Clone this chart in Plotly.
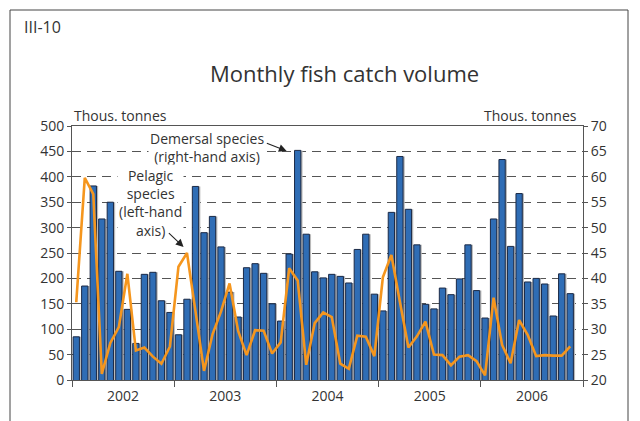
import plotly.graph_objects as go

# ---- data -------------------------------------------------------------
years = ["2002", "2003", "2004", "2005", "2006"]
months = [f"{y}-{m:02d}" for y in range(2002, 2007) for m in range(1, 13)][:59]

# Demersal species, thousand tonnes (right-hand axis)
demersal = [
    28.5, 38.5, 58.2, 51.7, 55.0, 41.4, 33.9, 27.2, 40.8, 41.2, 35.6, 33.3,
    28.9, 35.9, 58.1, 49.0, 52.2, 46.2, 37.3, 32.4, 42.1, 42.9, 41.0, 35.0,
    31.6, 44.8, 65.2, 48.7, 41.3, 40.1, 40.8, 40.4, 39.1, 45.7, 48.7, 36.9,
    33.6, 53.0, 64.0, 53.6, 46.6, 34.9, 34.0, 38.1, 36.8, 39.9, 46.6, 37.6,
    32.2, 51.7, 63.4, 46.3, 56.7, 39.3, 40.0, 38.9, 32.6, 40.9, 37.0,
]

# Pelagic species, thousand tonnes (left-hand axis)
pelagic = [
    153, 398, 366, 12, 73, 104, 209, 58, 64, 46, 32, 66,
    223, 250, 135, 18, 90, 135, 190, 97, 49, 98, 97, 52,
    74, 220, 196, 30, 112, 133, 124, 32, 22, 87, 85, 47,
    202, 246, 154, 64, 86, 115, 50, 49, 29, 46, 49, 37,
    9, 162, 69, 33, 118, 89, 47, 49, 48, 48, 66,
]

x = list(range(len(months)))
n_slots = 12 * len(years)

FONT = "Open Sans"
TXT = "#333333"

fig = go.Figure()

# bar shadow
fig.add_trace(go.Bar(
    x=x, y=demersal, yaxis="y", width=0.74, offset=-0.37 + 0.2,
    marker=dict(color="#b9b9b9", line=dict(width=0)),
    hoverinfo="skip", showlegend=False,
))
# demersal bars
fig.add_trace(go.Bar(
    x=x, y=demersal, yaxis="y", width=0.74, offset=-0.37,
    marker=dict(color="#2f6db5", line=dict(color="#1b2a47", width=1)),
    name="Demersal species", showlegend=False,
))
# pelagic line
fig.add_trace(go.Scatter(
    x=x, y=pelagic, yaxis="y2", mode="lines",
    line=dict(color="#f5961e", width=2.6),
    name="Pelagic species", showlegend=False,
))

boundaries = [i * 12 - 0.5 for i in range(len(years) + 1)]
centers = [i * 12 + 5.5 for i in range(len(years))]

fig.update_layout(
    width=640, height=421,
    margin=dict(l=72, r=57, t=126, b=41, autoexpand=False),
    paper_bgcolor="white", plot_bgcolor="white",
    barmode="overlay",
    font=dict(family=FONT, size=14, color=TXT),
    xaxis=dict(
        range=[-0.5, n_slots - 0.5],
        tickvals=centers, ticktext=years, ticks="",
        tickfont=dict(size=14, color=TXT),
        showgrid=False, zeroline=False,
        showline=True, linecolor="#555555", linewidth=1, mirror=True,
        minor=dict(tickvals=boundaries, ticks="outside", ticklen=6,
                   tickcolor="#555555", showgrid=False),
        ticklabelstandoff=3,
    ),
    yaxis=dict(
        side="right", range=[20, 70], dtick=5, tick0=20,
        showgrid=True, gridcolor="#555555", gridwidth=1, griddash="9px,6px",
        zeroline=False, showline=True, linecolor="#555555", linewidth=1,
        ticks="outside", ticklen=4, tickcolor="#555555",
        tickfont=dict(size=14, color=TXT),
    ),
    yaxis2=dict(
        side="left", overlaying="y", range=[0, 500], dtick=50, tick0=0,
        showgrid=False, zeroline=False, showline=True,
        linecolor="#555555", linewidth=1,
        ticks="outside", ticklen=4, tickcolor="#555555",
        tickfont=dict(size=14, color=TXT),
    ),
    annotations=[
        dict(text="III-10", xref="paper", yref="paper",
             x=(22 - 72) / 254 * 0 + (22 - 72) / 511, y=(380 - 27) / 254,
             xanchor="left", yanchor="middle",
             showarrow=False, font=dict(size=16, color=TXT)),
        dict(text="Monthly fish catch volume", xref="paper", yref="paper",
             x=(344 - 72) / 511, y=(380 - 73) / 254, xanchor="center", yanchor="middle",
             showarrow=False, font=dict(size=22, color=TXT)),
        dict(text="Thous. tonnes", xref="paper", yref="paper",
             x=0, y=(380 - 115) / 254, xanchor="left", yanchor="middle",
             showarrow=False, font=dict(size=14, color=TXT)),
        dict(text="Thous. tonnes", xref="paper", yref="paper",
             x=(579 - 72) / 511, y=(380 - 115) / 254, xanchor="right", yanchor="middle",
             showarrow=False, font=dict(size=14, color=TXT)),
        dict(text="Demersal species<br>(right-hand axis)", xref="x", yref="y2",
             x=15.3, y=458, xanchor="center", yanchor="middle",
             showarrow=False, bgcolor="white", font=dict(size=14, color=TXT)),
        dict(text="", xref="x", yref="y2", x=24.7, y=451,
             axref="x", ayref="y2", ax=22.2, ay=467,
             showarrow=True, arrowhead=2, arrowsize=1.4, arrowwidth=1.1,
             arrowcolor="#222222"),
        dict(text="Pelagic<br>species<br>(left-hand<br>axis)", xref="x", yref="y2",
             x=8.7, y=348, xanchor="center", yanchor="middle",
             showarrow=False, bgcolor="white", font=dict(size=14, color=TXT)),
        dict(text="", xref="x", yref="y2", x=12.6, y=262,
             axref="x", ayref="y2", ax=10.7, ay=292,
             showarrow=True, arrowhead=2, arrowsize=1.4, arrowwidth=1.1,
             arrowcolor="#222222"),
    ],
    shapes=[
        dict(type="path", xref="paper", yref="paper",
             path="M {l},{b} L {l},{t} L {r},{t} L {r},{b}".format(
                 l=(10 - 72) / 511, r=(628 - 72) / 511,
                 t=(380 - 10) / 254, b=(380 - 430) / 254),
             line=dict(color="#444444", width=1)),
    ],
)

fig.write_html(
    "out.html",
    config={"displayModeBar": False},
    post_script="document.body.style.margin='0';document.body.style.padding='0';",
)
